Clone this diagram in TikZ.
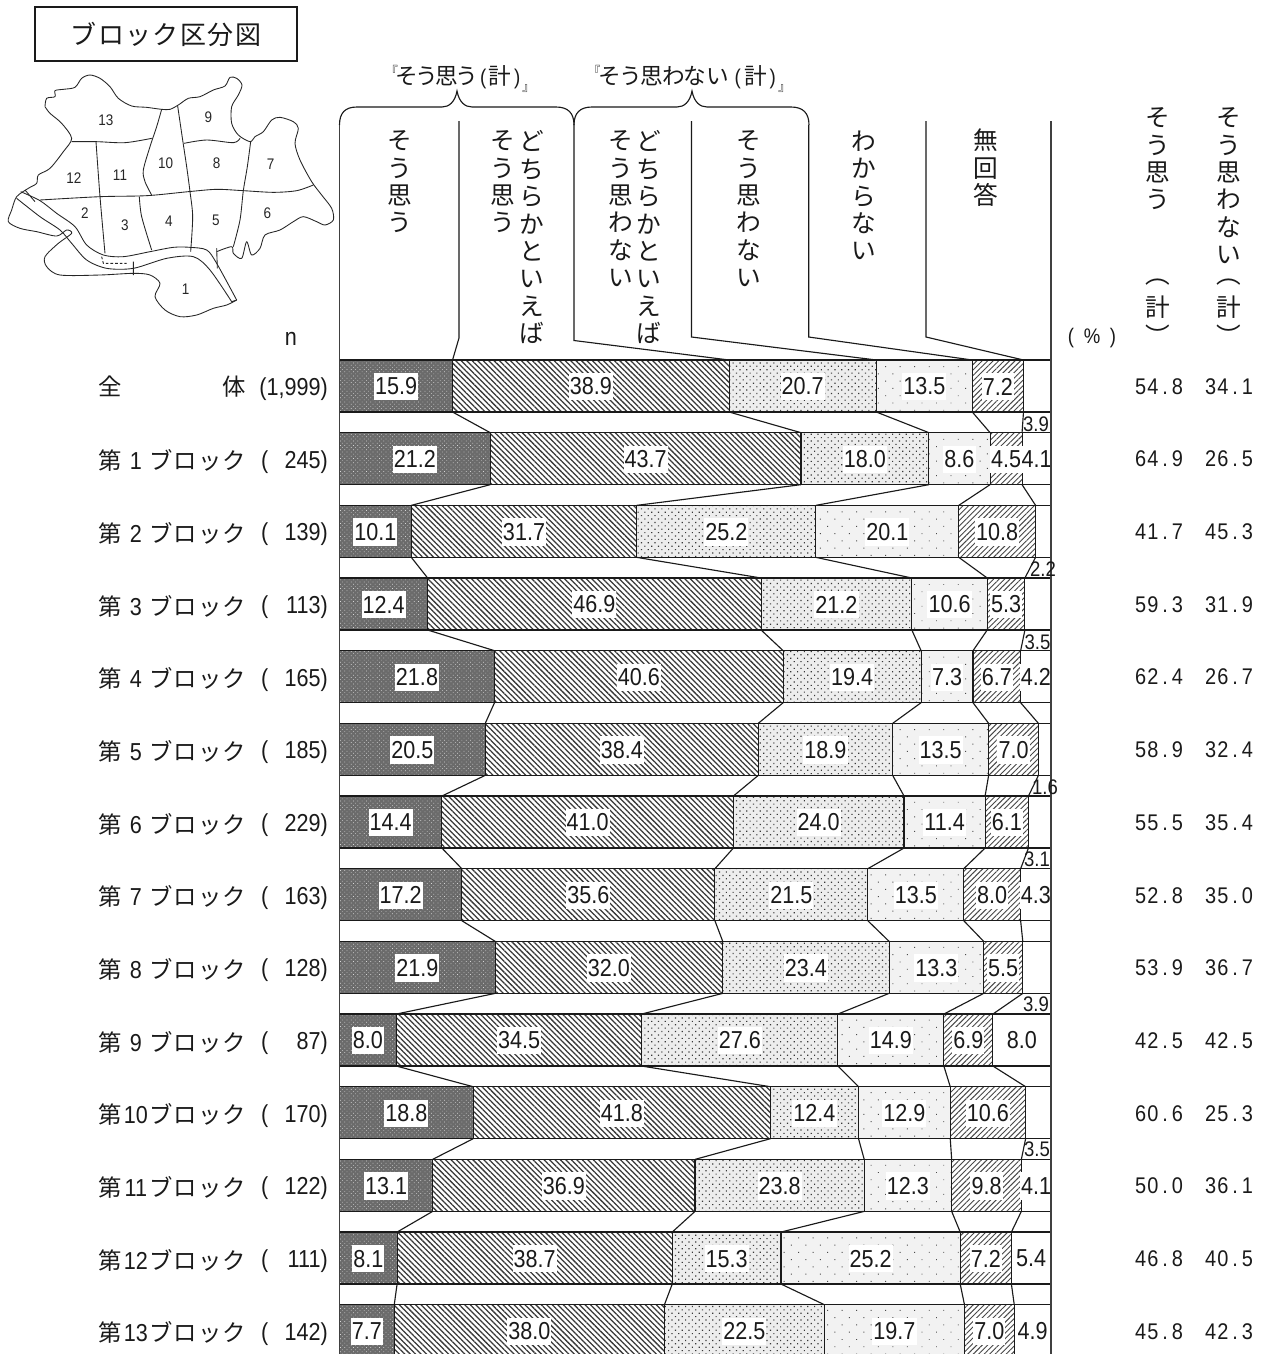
\documentclass[tikz,border=0pt]{standalone}
\usepackage{fontspec}
\usetikzlibrary{patterns.meta}
\setmainfont{Liberation Sans}
\newfontfamily\jp{Noto Sans CJK JP}
\newfontfamily\lat[FakeStretch=0.88]{Liberation Sans}
\definecolor{ink}{HTML}{1A1A1A}
\newdimen\pxu \pxu=0.75pt
\newcommand\cc[1]{\makebox[18.2pt][c]{#1}}
\newcommand\tc[1]{\makebox[20.6pt][c]{#1}}
\newcommand\hc[2]{\makebox[#1\pxu][c]{#2}}
\newcommand\vd[1]{\makebox[9.2pt][c]{#1}}
\newcommand\lb{\raisebox{.4em}{\fontsize{9}{9}\selectfont 『}}
\newcommand\rb{\raisebox{-.3em}{\fontsize{9}{9}\selectfont 』}}
\newcommand\lp{{\lat\fontsize{16}{16}\selectfont (}}
\newcommand\rp{{\lat\fontsize{16}{16}\selectfont )}}
\tikzset{
  x=0.75pt,y=-0.75pt,
  ln/.style={draw=ink,line width=0.85pt},
  catone/.style={preaction={fill=black!58},pattern={Dots[radius=0.36pt,distance=2.3pt,angle=45]},pattern color=white!85!black},
  cattwo/.style={pattern={Lines[angle=-45,distance=2.9pt,line width=0.95pt]},pattern color=black!78},
  catthree/.style={preaction={fill=black!7},pattern={Dots[radius=0.62pt,distance=3.6pt,angle=45]},pattern color=black!78},
  catfour/.style={preaction={fill=black!5},pattern={Dots[radius=0.5pt,distance=7.7pt,angle=45]},pattern color=black!70},
  catfive/.style={pattern={Lines[angle=45,distance=2.9pt,line width=0.7pt]},pattern color=black!72},
  vallab/.style={fill=white,inner xsep=0.8pt,inner ysep=0pt,minimum height=20.5pt,text=ink,font=\lat\fontsize{18.4}{18.4}\selectfont},
  outlab/.style={inner sep=0pt,text=ink,font=\lat\fontsize{15.8}{15.8}\selectfont},
  rowlab/.style={inner sep=0pt,text=ink,font=\jp\fontsize{17.5}{17.5}\selectfont},
  numlab/.style={inner sep=0pt,text=ink,font=\lat\fontsize{18.4}{18.4}\selectfont},
  totlab/.style={inner sep=0pt,text=ink,font=\lat\fontsize{17}{17}\selectfont},
  vstack/.style={inner sep=0pt,align=center,text=ink,anchor=north,font=\jp\fontsize{18.5}{20.55}\selectfont},
  vglyph/.style={inner sep=0pt,text=ink,anchor=base,font=\jp\fontsize{18.5}{20.55}\selectfont},
  toplab/.style={inner sep=0pt,text=ink,font=\jp\fontsize{17}{17}\selectfont},
  mapline/.style={draw=black!85,line width=0.65pt,line join=round},
  mapnum/.style={inner sep=0pt,text=black!85,font=\lat\fontsize{11.5}{11.5}\selectfont},
}
\newcommand\chartrow[7]{%
  \pgfmathsetmacro\xz{339.5}%
  \pgfmathsetmacro\yt{360+72.67*#1}\pgfmathsetmacro\yb{\yt+52}\pgfmathsetmacro\ym{\yt+26.5}%
  \pgfmathsetmacro\xa{\xz+7.11*(#2)}%
  \pgfmathsetmacro\xb{\xa+7.11*(#3)}%
  \pgfmathsetmacro\xc{\xb+7.11*(#4)}%
  \pgfmathsetmacro\xd{\xc+7.11*(#5)}%
  \pgfmathsetmacro\xe{\xd+7.11*(#6)}%
  \path[catone] (\xz,\yt) rectangle (\xa,\yb);
  \path[cattwo] (\xa,\yt) rectangle (\xb,\yb);
  \path[catthree] (\xb,\yt) rectangle (\xc,\yb);
  \path[catfour] (\xc,\yt) rectangle (\xd,\yb);
  \path[catfive] (\xd,\yt) rectangle (\xe,\yb);
  \coordinate (t#1a) at (\xa,\yt); \coordinate (b#1a) at (\xa,\yb);
  \coordinate (t#1b) at (\xb,\yt); \coordinate (b#1b) at (\xb,\yb);
  \coordinate (t#1c) at (\xc,\yt); \coordinate (b#1c) at (\xc,\yb);
  \coordinate (t#1d) at (\xd,\yt); \coordinate (b#1d) at (\xd,\yb);
  \coordinate (t#1e) at (\xe,\yt); \coordinate (b#1e) at (\xe,\yb);
  \draw[ln] (\xz,\yt) -- (1051,\yt) (\xz,\yb) -- (1051,\yb);
  \foreach \cl in {a,b,c,d,e}{\draw[ln] (t#1\cl) -- (b#1\cl);}
  \pgfmathsetmacro\cA{(\xz+\xa)/2}\pgfmathsetmacro\cB{(\xa+\xb)/2}%
  \pgfmathsetmacro\cC{(\xb+\xc)/2}\pgfmathsetmacro\cD{(\xc+\xd)/2}\pgfmathsetmacro\cE{(\xd+\xe)/2}\pgfmathsetmacro\cF{(\xe+1051)/2}%
  \node[vallab] (v#1a) at (\cA,\ym) {#2};
  \node[vallab] (v#1b) at (\cB,\ym) {#3};
  \node[vallab] (v#1c) at (\cC,\ym) {#4};
  \node[vallab] (v#1d) at (\cD,\ym) {#5};
  \node[vallab] (v#1e) at (\cE,\ym) {#6};
  \if\relax\detokenize{#7}\relax\else\node[vallab] (v#1f) at (\cF,\ym) {#7};\fi
}
\newcommand\rowname[3]{\pgfmathsetmacro\ym{360+72.67*#1+26.5}\pgfmathsetmacro\yj{\ym+1.5}\pgfmathsetmacro\yk{\ym+9}%
  \node[rowlab,anchor=west] (n#1) at (98,\yj) {\cc{第}\makebox[20pt][c]{\lat\fontsize{18.4}{18.4}\selectfont #2}\cc{ブ}\cc{ロ}\cc{ッ}\cc{ク}};
  \node[numlab,anchor=base east] (c#1) at (328,\yk) {\hbox to 50pt{(\hfil #3)}};
}
\newcommand\totals[7]{\pgfmathsetmacro\ym{360+72.67*#1+26.5}%
  \node[totlab] (ta#1) at (1159,\ym) {\vd{#2}\vd{#3}\vd{.}\vd{#4}};
  \node[totlab] (tb#1) at (1229,\ym) {\vd{#5}\vd{#6}\vd{.}\vd{#7}};
}
\begin{document}
\begin{tikzpicture}
\clip (0,0) rectangle (1261,1354);
\fill[white] (0,0) rectangle (1261,1354);
% title
\node[draw=ink,line width=1pt,minimum width=196.5pt,minimum height=40.5pt,inner sep=0pt,text=ink,font=\jp\fontsize{19.5}{19.5}\selectfont] (title) at (166,34) {\tc{ブ}\tc{ロ}\tc{ッ}\tc{ク}\tc{区}\tc{分}\tc{図}};
% map (coordinates of a 3x crop)
\begin{scope}[x=0.25pt,y=-0.25pt]
\draw[mapline] plot[smooth,tension=0.5] coordinates {(135,320)(140,295)(165,290)(165,272)(190,268)(225,262)(245,235)(270,225)(300,235)(330,260)(355,295)(395,318)(440,322)(485,328)(510,328)(535,315)(565,295)(600,290)(640,270)(675,258)(690,232)(710,235)(726,255)(715,285)(695,320)(695,370)(715,405)(750,425)(765,410)(790,395)(815,360)(840,352)(880,365)(895,385)(885,430)(900,480)(935,545)(965,585)(995,625)(1000,660)(975,675)(950,665)(910,650)(880,665)(840,690)(795,705)(780,745)(755,765)(740,725)(725,775)(700,760)(695,740)(650,755)};
\draw[mapline] plot[smooth,tension=0.5] coordinates {(135,320)(150,340)(185,370)(215,415)(190,455)(150,505)(115,525)(110,550)(85,565)(50,590)(35,630)(25,665)(60,685)(110,695)(170,708)(200,690)(215,700)(175,730)(135,770)(140,800)(180,825)(300,825)(400,820)(450,825)(480,850)(465,890)(495,930)(540,950)(590,945)(640,925)(680,915)(710,900)};
\draw[mapline] plot[smooth,tension=0.5] coordinates {(62,575)(120,602)(170,640)(225,680)(260,735)(310,765)(370,770)(450,755)(520,742)(570,742)(620,750)(650,790)(710,900)};
\draw[mapline] plot[smooth,tension=0.5] coordinates {(50,595)(120,650)(180,690)(215,730)(260,780)(320,805)(400,805)(500,775)(580,770)(630,810)(695,905)};
\draw[mapline] (695,905) -- (710,900);
\draw[mapline] (75,570) -- (105,605) (400,785) -- (400,825) (650,745) -- (652,805);
\draw[mapline,dash pattern=on 2pt off 1.5pt] (305,770) -- (310,790) -- (380,790);
\draw[mapline] plot[smooth,tension=0.5] coordinates {(215,425)(290,425)(375,428)(455,415)};
\draw[mapline] plot[smooth,tension=0.5] coordinates {(288,425)(300,590)(315,760)};
\draw[mapline] plot[smooth,tension=0.5] coordinates {(120,600)(300,590)(440,587)(565,575)(650,568)(730,572)(820,577)(890,572)(940,555)};
\draw[mapline] plot[smooth,tension=0.5] coordinates {(485,328)(470,380)(450,440)(430,510)(435,545)(455,585)};
\draw[mapline] plot[smooth,tension=0.5] coordinates {(533,318)(548,420)(560,500)(570,575)(578,650)(572,755)};
\draw[mapline] plot[smooth,tension=0.5] coordinates {(552,430)(620,420)(700,428)(720,415)};
\draw[mapline] plot[smooth,tension=0.5] coordinates {(752,425)(742,500)(730,572)(720,660)(700,740)};
\draw[mapline] plot[smooth,tension=0.5] coordinates {(418,590)(425,650)(455,750)};
\foreach \mx/\my/\mt in {318/360/13,625/353/9,497/490/10,650/490/8,812/492/7,222/535/12,360/525/11,255/640/2,375/675/3,507/665/4,648/662/5,802/640/6,557/868/1}
  \node[mapnum] (m\mt) at (\mx,\my) {\mt};
\end{scope}
\node[numlab] (nn) at (291,339) {n};
% top labels and braces
\node[toplab,anchor=west] (g1) at (386,79) {\hc{11}{\lb}\hc{20}{そ}\hc{19}{う}\hc{22}{思}\hc{18}{う}\hc{14}{\lp}\hc{20}{計}\hc{14}{\rp}\hc{8}{\rb}};
\node[toplab,anchor=west] (g2) at (588,79) {\hc{12}{\lb}\hc{20}{そ}\hc{21}{う}\hc{22}{思}\hc{21}{わ}\hc{22}{な}\hc{23}{い}\hc{17}{\lp}\hc{19}{計}\hc{15}{\rp}\hc{8}{\rb}};
\coordinate (br1a) at (339.5,125); \coordinate (br1p) at (457,91); \coordinate (br1b) at (574,125);
\coordinate (br2a) at (574,125); \coordinate (br2p) at (692,91); \coordinate (br2b) at (809,125);
\draw[ln] (br1a) .. controls (339.5,113) and (345,107) .. (357,107) -- (442,107) .. controls (449,107) and (455,102) .. (br1p) .. controls (459,102) and (465,107) .. (472,107) -- (556,107) .. controls (568,107) and (574,113) .. (br1b);
\draw[ln] (br2a) .. controls (574,113) and (580,107) .. (592,107) -- (677,107) .. controls (684,107) and (690,102) .. (br2p) .. controls (694,102) and (700,107) .. (707,107) -- (791,107) .. controls (803,107) and (809,113) .. (br2b);
% header texts
\node[vstack] (h1) at (400,130.5) {そ\\う\\思\\う};
\node[vstack] (h2) at (532,130.5) {ど\\ち\\ら\\か\\と\\い\\え\\ば};
\node[vstack] (h2b) at (503,130.5) {そ\\う\\思\\う};
\node[vstack] (h3) at (649,130.5) {ど\\ち\\ら\\か\\と\\い\\え\\ば};
\node[vstack] (h3b) at (621,130.5) {そ\\う\\思\\わ\\な\\い};
\node[vstack] (h4) at (749,130.5) {そ\\う\\思\\わ\\な\\い};
\node[vstack] (h5) at (864,130.5) {わ\\か\\ら\\な\\い};
\node[vstack] (h6) at (986,129) {無\\回\\答};
\node[vstack] (s1) at (1158,107.5) {そ\\う\\思\\う};
\node[vstack] (s2) at (1229,107.5) {そ\\う\\思\\わ\\な\\い};
\node[vglyph] (s1p) at (1158,283) {︵};
\node[vglyph] (s1k) at (1158,316) {計};
\node[vglyph] (s1q) at (1158,345) {︶};
\node[vglyph] (s2p) at (1229,283) {︵};
\node[vglyph] (s2k) at (1229,316) {計};
\node[vglyph] (s2q) at (1229,345) {︶};
\node[inner sep=0pt,text=ink,font=\lat\fontsize{15.8}{15.8}\selectfont] (pct) at (1092,338) {\hc{21}{(}\hc{21}{\%}\hc{21}{)}};
% chart rows
\chartrow{0}{15.9}{38.9}{20.7}{13.5}{7.2}{}
\chartrow{1}{21.2}{43.7}{18.0}{8.6}{4.5}{4.1}
\chartrow{2}{10.1}{31.7}{25.2}{20.1}{10.8}{}
\chartrow{3}{12.4}{46.9}{21.2}{10.6}{5.3}{}
\chartrow{4}{21.8}{40.6}{19.4}{7.3}{6.7}{4.2}
\chartrow{5}{20.5}{38.4}{18.9}{13.5}{7.0}{}
\chartrow{6}{14.4}{41.0}{24.0}{11.4}{6.1}{}
\chartrow{7}{17.2}{35.6}{21.5}{13.5}{8.0}{4.3}
\chartrow{8}{21.9}{32.0}{23.4}{13.3}{5.5}{}
\chartrow{9}{8.0}{34.5}{27.6}{14.9}{6.9}{8.0}
\chartrow{10}{18.8}{41.8}{12.4}{12.9}{10.6}{}
\chartrow{11}{13.1}{36.9}{23.8}{12.3}{9.8}{4.1}
\chartrow{12}{8.1}{38.7}{15.3}{25.2}{7.2}{5.4}
\chartrow{13}{7.7}{38.0}{22.5}{19.7}{7.0}{4.9}
% axes
\draw[draw=black!75,line width=1.1pt] (339.5,125) -- (339.5,1354);
\draw[draw=black!75,line width=1.1pt] (1051,121) -- (1051,1354);
% header dividers
\coordinate (d1u) at (459,121); \coordinate (d1l) at (459,338);
\coordinate (d2u) at (574,125); \coordinate (d2l) at (574,340.5);
\coordinate (d3u) at (691.5,121); \coordinate (d3l) at (691.5,337);
\coordinate (d4u) at (808.7,125); \coordinate (d4l) at (808.7,337);
\coordinate (d5u) at (926,121); \coordinate (d5l) at (926,337);
\draw[ln] (d1u) -- (d1l) -- (t0a);
\draw[ln] (d2u) -- (d2l) -- (t0b);
\draw[ln] (d3u) -- (d3l) -- (t0c);
\draw[ln] (d4u) -- (d4l) -- (t0d);
\draw[ln] (d5u) -- (d5l) -- (t0e);
% connectors between rows
\foreach \ri in {0,...,12}{
  \pgfmathtruncatemacro\rn{\ri+1}
  \foreach \cl in {a,b,c,d,e}{\draw[ln] (b\ri\cl) -- (t\rn\cl);}
}
% outside labels
\node[outlab] (o0) at (1036,424) {3.9};
\node[outlab] (o2) at (1043,569) {2.2};
\node[outlab] (o3) at (1037.5,642) {3.5};
\node[outlab] (o5) at (1045,787) {1.6};
\node[outlab] (o6) at (1037,859) {3.1};
\node[outlab] (o8) at (1036,1004) {3.9};
\node[outlab] (o10) at (1037,1149) {3.5};
% row names
\node[rowlab] (n0a) at (110,386.5) {全};
\node[rowlab] (n0b) at (234,386.5) {体};
\node[numlab,anchor=base east] (c0) at (328,395) {(1,999)};
\rowname{1}{1}{245}
\rowname{2}{2}{139}
\rowname{3}{3}{113}
\rowname{4}{4}{165}
\rowname{5}{5}{185}
\rowname{6}{6}{229}
\rowname{7}{7}{163}
\rowname{8}{8}{128}
\rowname{9}{9}{87}
\rowname{10}{10}{170}
\rowname{11}{11}{122}
\rowname{12}{12}{111}
\rowname{13}{13}{142}
% totals
\totals{0}{5}{4}{8}{3}{4}{1}
\totals{1}{6}{4}{9}{2}{6}{5}
\totals{2}{4}{1}{7}{4}{5}{3}
\totals{3}{5}{9}{3}{3}{1}{9}
\totals{4}{6}{2}{4}{2}{6}{7}
\totals{5}{5}{8}{9}{3}{2}{4}
\totals{6}{5}{5}{5}{3}{5}{4}
\totals{7}{5}{2}{8}{3}{5}{0}
\totals{8}{5}{3}{9}{3}{6}{7}
\totals{9}{4}{2}{5}{4}{2}{5}
\totals{10}{6}{0}{6}{2}{5}{3}
\totals{11}{5}{0}{0}{3}{6}{1}
\totals{12}{4}{6}{8}{4}{0}{5}
\totals{13}{4}{5}{8}{4}{2}{3}
\end{tikzpicture}
\end{document}
